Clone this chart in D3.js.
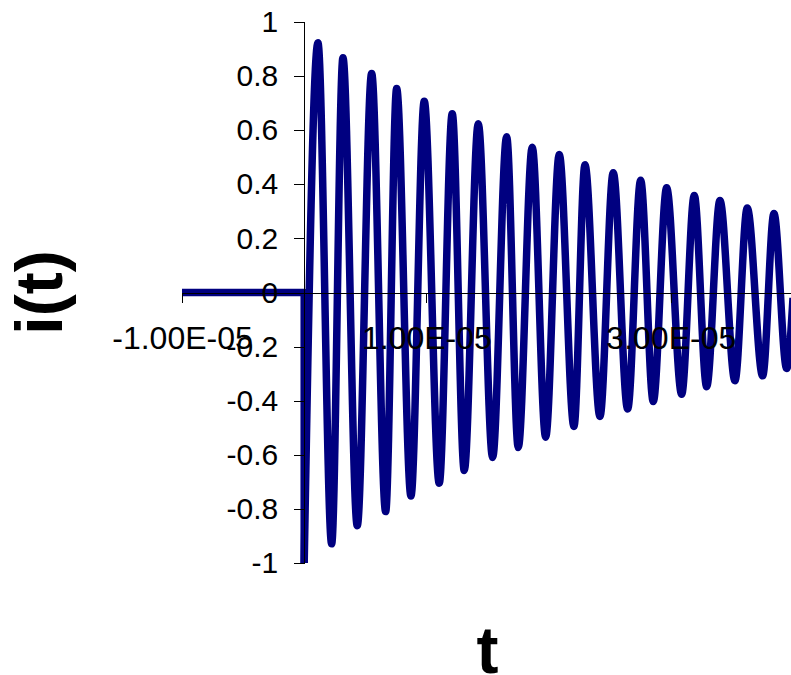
<!DOCTYPE html>
<html>
<head>
<meta charset="utf-8">
<script src="https://cdn.jsdelivr.net/npm/d3@7"></script>
<style>
  html, body { margin: 0; padding: 0; background: #fff; }
  svg { display: block; }
  text { font-family: "Liberation Sans", Arial, sans-serif; fill: #000; }
</style>
</head>
<body>
<svg id="chart" width="791" height="675"></svg>
<script>
// ---- data ----
const xTickValues = [-1e-5, 1e-5, 3e-5];
const xTickLabels = ["-1.00E-05", "1.00E-05", "3.00E-05"];
const yTickValues = [1, 0.8, 0.6, 0.4, 0.2, 0, -0.2, -0.4, -0.6, -0.8, -1];
const yTickLabels = ["1", "0.8", "0.6", "0.4", "0.2", "0", "-0.2", "-0.4", "-0.6", "-0.8", "-1"];

// before switching (t < 0): current is zero, then steps to -1 at t = 0
const preTime = [-1e-5, 0, 0];
const preCurrent = [0, 0, -1];

// after switching: peaks and troughs of the damped oscillation (t in microseconds)
const timeUs = [0, 1.125, 2.246, 3.171, 4.341, 5.52, 6.665, 7.565, 8.736, 9.824,
  11.05, 12.115, 13.097, 14.243, 15.42, 16.567, 17.516, 18.662, 19.759, 20.871,
  22.074, 22.975, 24.202, 25.29, 26.469, 27.533, 28.564, 29.66, 30.888, 31.92,
  32.934, 34.022, 35.25, 36.256, 37.516, 38.441, 39.48, 40.0];
const current = [-1, 0.923, -0.929, 0.868, -0.862, 0.81, -0.81, 0.754, -0.752, 0.707,
  -0.705, 0.661, -0.658, 0.624, -0.61, 0.576, -0.573, 0.537, -0.535, 0.510,
  -0.495, 0.472, -0.458, 0.443, -0.431, 0.415, -0.403, 0.387, -0.376, 0.359,
  -0.348, 0.340, -0.326, 0.312, -0.308, 0.292, -0.281, -0.02];

const xDomain = [-1e-5, 4e-5];
const yDomain = [-1, 1];

// ---- drawing ----
const svg = d3.select("#chart");
const x = d3.scaleLinear().domain(xDomain).range([182, 793]);
const y = d3.scaleLinear().domain(yDomain).range([563, 22]);

const lineColor = "#000080";

const pre = preTime.map((t, i) => [t, preCurrent[i]]);
const post = timeUs.map((t, i) => [t * 1e-6, current[i]]);

svg.append("path")
  .datum(pre)
  .attr("d", d3.line().x(d => x(d[0])).y(d => y(d[1])))
  .attr("fill", "none")
  .attr("stroke", lineColor)
  .attr("stroke-width", 7.5)
  .attr("stroke-linejoin", "round")
  .attr("stroke-linecap", "butt");

svg.append("path")
  .datum(post)
  .attr("d", d3.line().curve(d3.curveMonotoneX).x(d => x(d[0])).y(d => y(d[1])))
  .attr("fill", "none")
  .attr("stroke", lineColor)
  .attr("stroke-width", 7.5)
  .attr("stroke-linejoin", "round")
  .attr("stroke-linecap", "butt");

// y axis (at t = 0)
const yAxis = d3.axisLeft(y)
  .tickValues(yTickValues)
  .tickFormat((d, i) => yTickLabels[i])
  .tickSize(10)
  .tickPadding(16);
const gy = svg.append("g")
  .attr("transform", `translate(${x(0)},0)`)
  .call(yAxis);
gy.select(".domain").attr("stroke", "#000").attr("shape-rendering", "crispEdges");
gy.selectAll(".tick line").attr("stroke", "#000").attr("shape-rendering", "crispEdges");
gy.selectAll(".tick text")
  .attr("font-family", "'Liberation Sans', Arial, sans-serif")
  .attr("font-size", 30)
  .attr("fill", "#000");

// x axis (at i = 0)
const xAxis = d3.axisBottom(x)
  .tickValues(xTickValues)
  .tickFormat((d, i) => xTickLabels[i])
  .tickSize(10)
  .tickSizeOuter(0)
  .tickPadding(24);
const gx = svg.append("g")
  .attr("transform", `translate(0,${y(0)})`)
  .call(xAxis);
gx.select(".domain").attr("stroke", "#000").attr("shape-rendering", "crispEdges");
gx.selectAll(".tick line").attr("stroke", "#000").attr("shape-rendering", "crispEdges");
gx.selectAll(".tick text")
  .attr("font-family", "'Liberation Sans', Arial, sans-serif")
  .attr("font-size", 32)
  .attr("fill", "#000");

// axis titles
svg.append("text")
  .attr("transform", `translate(62,${(y(1) + y(-1)) / 2}) rotate(-90)`)
  .attr("text-anchor", "middle")
  .attr("font-size", 66)
  .attr("font-weight", "bold")
  .text("i(t)");

svg.append("text")
  .attr("x", (x(xDomain[0]) + x(xDomain[1])) / 2)
  .attr("y", 673)
  .attr("text-anchor", "middle")
  .attr("font-size", 66)
  .attr("font-weight", "bold")
  .text("t");
</script>
</body>
</html>
